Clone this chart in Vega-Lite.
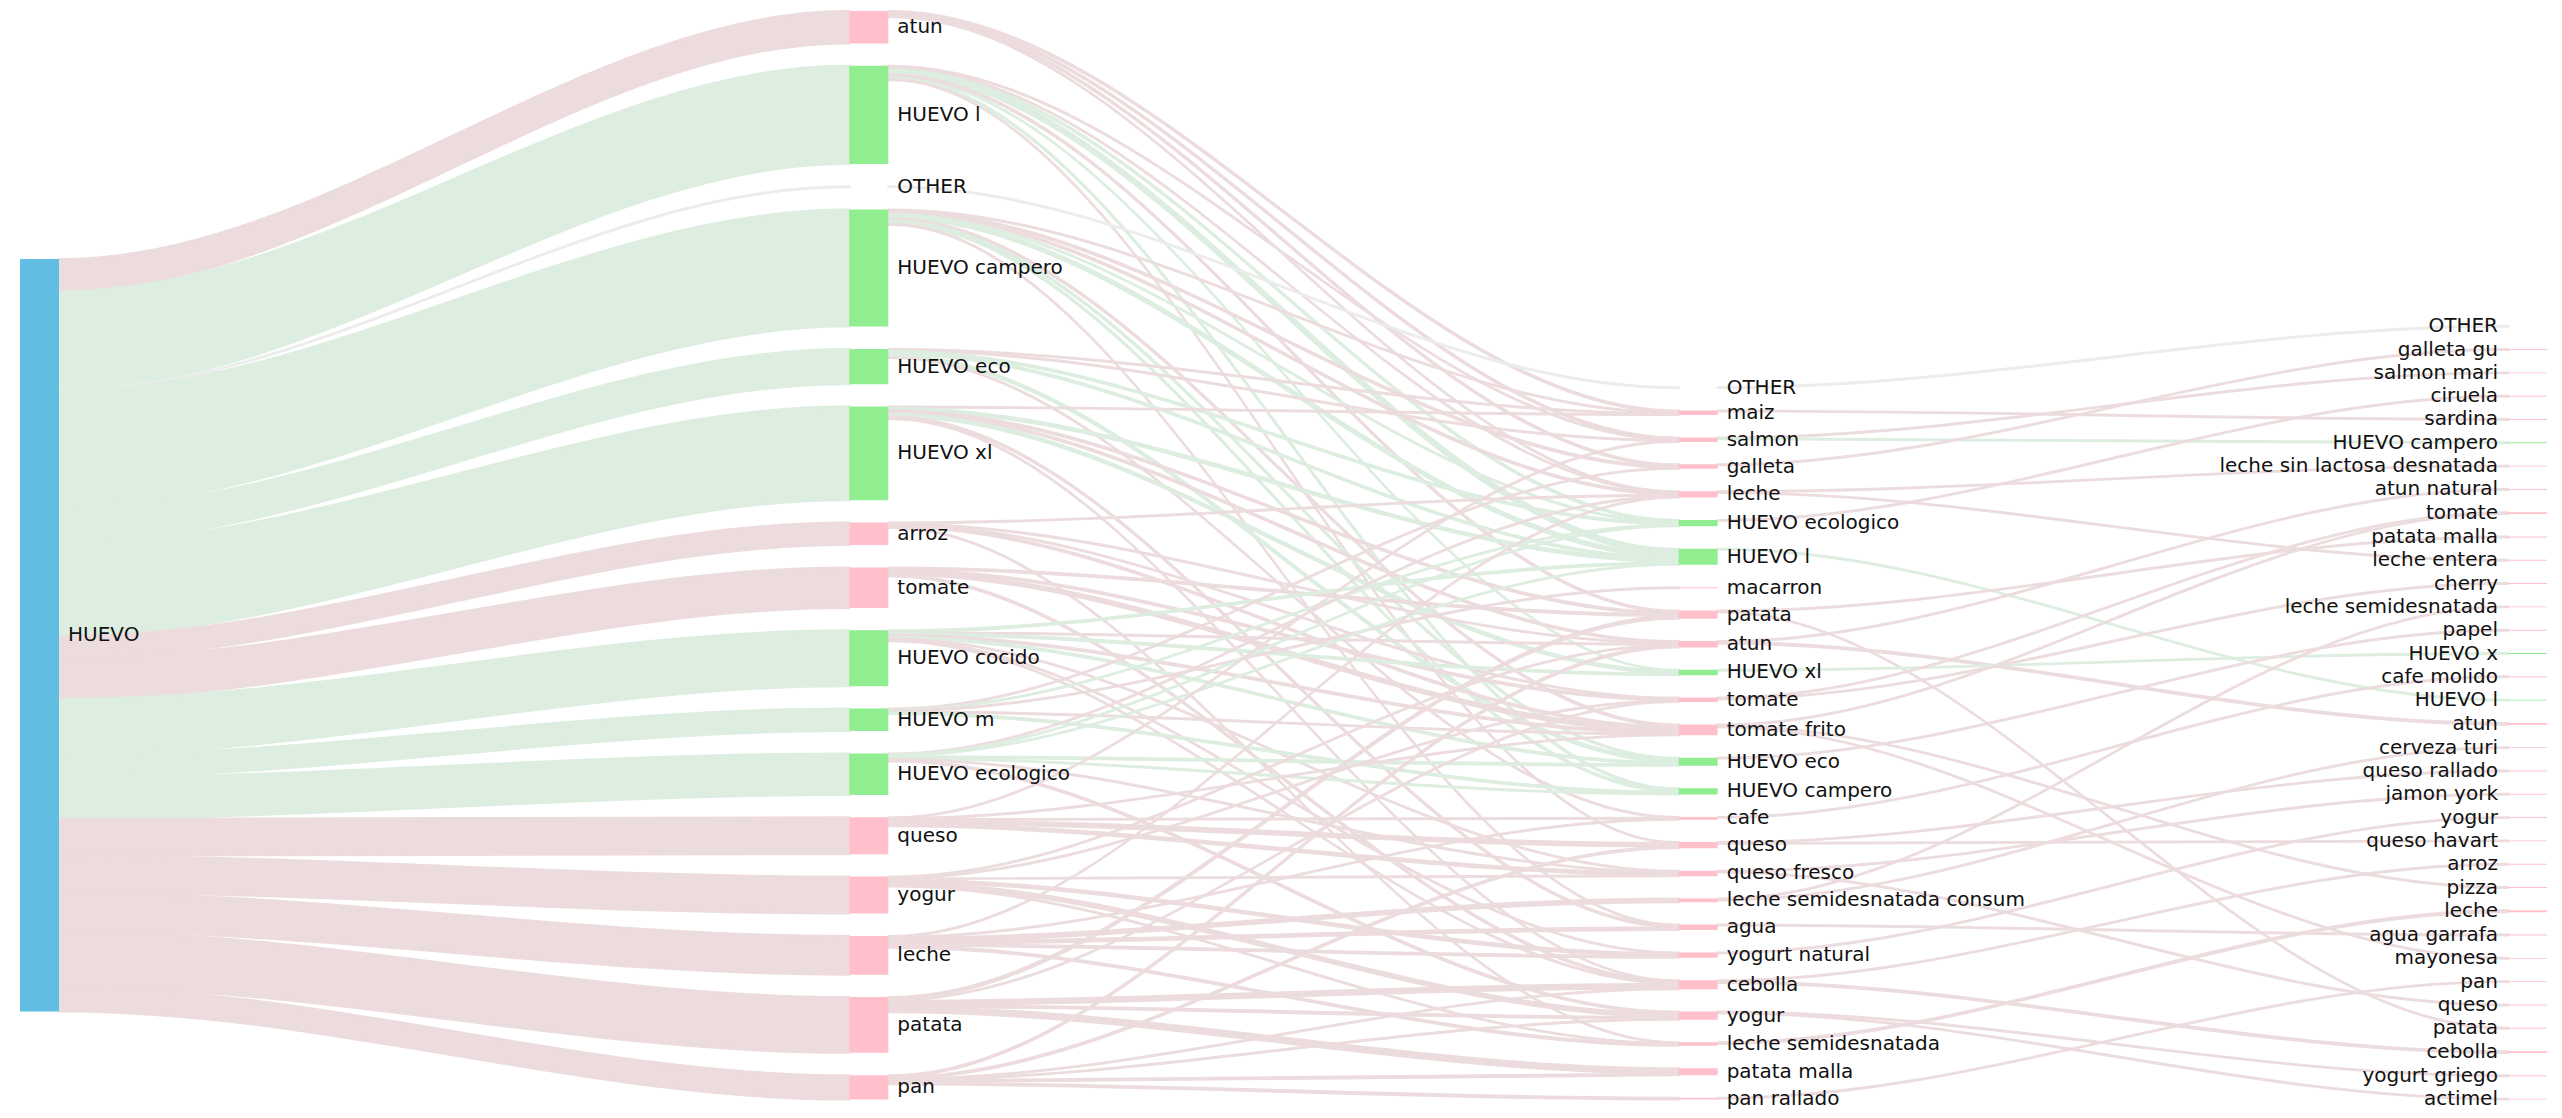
{
  "$schema": "https://vega.github.io/schema/vega-lite/v6.json",
  "width": 2562,
  "height": 1118,
  "padding": 0,
  "autosize": {"type": "fit", "contains": "padding"},
  "background": "white",
  "config": {"view": {"stroke": null}},
  "resolve": {"scale": {"color": "independent", "stroke": "independent"}},
  "data": {"values": [
    {"t":"n","name":"HUEVO","lvl":0,"ord":0},
    {"t":"n","name":"atun","lvl":1,"ord":0},
    {"t":"n","name":"HUEVO l","lvl":1,"ord":1},
    {"t":"n","name":"OTHER","lvl":1,"ord":2},
    {"t":"n","name":"HUEVO campero","lvl":1,"ord":3},
    {"t":"n","name":"HUEVO eco","lvl":1,"ord":4},
    {"t":"n","name":"HUEVO xl","lvl":1,"ord":5},
    {"t":"n","name":"arroz","lvl":1,"ord":6},
    {"t":"n","name":"tomate","lvl":1,"ord":7},
    {"t":"n","name":"HUEVO cocido","lvl":1,"ord":8},
    {"t":"n","name":"HUEVO m","lvl":1,"ord":9},
    {"t":"n","name":"HUEVO ecologico","lvl":1,"ord":10},
    {"t":"n","name":"queso","lvl":1,"ord":11},
    {"t":"n","name":"yogur","lvl":1,"ord":12},
    {"t":"n","name":"leche","lvl":1,"ord":13},
    {"t":"n","name":"patata","lvl":1,"ord":14},
    {"t":"n","name":"pan","lvl":1,"ord":15},
    {"t":"n","name":"OTHER","lvl":2,"ord":0},
    {"t":"n","name":"maiz","lvl":2,"ord":1},
    {"t":"n","name":"salmon","lvl":2,"ord":2},
    {"t":"n","name":"galleta","lvl":2,"ord":3},
    {"t":"n","name":"leche","lvl":2,"ord":4},
    {"t":"n","name":"HUEVO ecologico","lvl":2,"ord":5},
    {"t":"n","name":"HUEVO l","lvl":2,"ord":6},
    {"t":"n","name":"macarron","lvl":2,"ord":7},
    {"t":"n","name":"patata","lvl":2,"ord":8},
    {"t":"n","name":"atun","lvl":2,"ord":9},
    {"t":"n","name":"HUEVO xl","lvl":2,"ord":10},
    {"t":"n","name":"tomate","lvl":2,"ord":11},
    {"t":"n","name":"tomate frito","lvl":2,"ord":12},
    {"t":"n","name":"HUEVO eco","lvl":2,"ord":13},
    {"t":"n","name":"HUEVO campero","lvl":2,"ord":14},
    {"t":"n","name":"cafe","lvl":2,"ord":15},
    {"t":"n","name":"queso","lvl":2,"ord":16},
    {"t":"n","name":"queso fresco","lvl":2,"ord":17},
    {"t":"n","name":"leche semidesnatada consum","lvl":2,"ord":18},
    {"t":"n","name":"agua","lvl":2,"ord":19},
    {"t":"n","name":"yogurt natural","lvl":2,"ord":20},
    {"t":"n","name":"cebolla","lvl":2,"ord":21},
    {"t":"n","name":"yogur","lvl":2,"ord":22},
    {"t":"n","name":"leche semidesnatada","lvl":2,"ord":23},
    {"t":"n","name":"patata malla","lvl":2,"ord":24},
    {"t":"n","name":"pan rallado","lvl":2,"ord":25},
    {"t":"n","name":"OTHER","lvl":3,"ord":0},
    {"t":"n","name":"galleta gu","lvl":3,"ord":1},
    {"t":"n","name":"salmon mari","lvl":3,"ord":2},
    {"t":"n","name":"ciruela","lvl":3,"ord":3},
    {"t":"n","name":"sardina","lvl":3,"ord":4},
    {"t":"n","name":"HUEVO campero","lvl":3,"ord":5},
    {"t":"n","name":"leche sin lactosa desnatada","lvl":3,"ord":6},
    {"t":"n","name":"atun natural","lvl":3,"ord":7},
    {"t":"n","name":"tomate","lvl":3,"ord":8},
    {"t":"n","name":"patata malla","lvl":3,"ord":9},
    {"t":"n","name":"leche entera","lvl":3,"ord":10},
    {"t":"n","name":"cherry","lvl":3,"ord":11},
    {"t":"n","name":"leche semidesnatada","lvl":3,"ord":12},
    {"t":"n","name":"papel","lvl":3,"ord":13},
    {"t":"n","name":"HUEVO x","lvl":3,"ord":14},
    {"t":"n","name":"cafe molido","lvl":3,"ord":15},
    {"t":"n","name":"HUEVO l","lvl":3,"ord":16},
    {"t":"n","name":"atun","lvl":3,"ord":17},
    {"t":"n","name":"cerveza turi","lvl":3,"ord":18},
    {"t":"n","name":"queso rallado","lvl":3,"ord":19},
    {"t":"n","name":"jamon york","lvl":3,"ord":20},
    {"t":"n","name":"yogur","lvl":3,"ord":21},
    {"t":"n","name":"queso havart","lvl":3,"ord":22},
    {"t":"n","name":"arroz","lvl":3,"ord":23},
    {"t":"n","name":"pizza","lvl":3,"ord":24},
    {"t":"n","name":"leche","lvl":3,"ord":25},
    {"t":"n","name":"agua garrafa","lvl":3,"ord":26},
    {"t":"n","name":"mayonesa","lvl":3,"ord":27},
    {"t":"n","name":"pan","lvl":3,"ord":28},
    {"t":"n","name":"queso","lvl":3,"ord":29},
    {"t":"n","name":"patata","lvl":3,"ord":30},
    {"t":"n","name":"cebolla","lvl":3,"ord":31},
    {"t":"n","name":"yogurt griego","lvl":3,"ord":32},
    {"t":"n","name":"actimel","lvl":3,"ord":33},

    {"t":"l","src":"HUEVO","tgt":"atun","lvl":0,"v":36},
    {"t":"l","src":"HUEVO","tgt":"HUEVO l","lvl":0,"v":109},
    {"t":"l","src":"HUEVO","tgt":"OTHER","lvl":0,"v":1},
    {"t":"l","src":"HUEVO","tgt":"HUEVO campero","lvl":0,"v":130},
    {"t":"l","src":"HUEVO","tgt":"HUEVO eco","lvl":0,"v":39},
    {"t":"l","src":"HUEVO","tgt":"HUEVO xl","lvl":0,"v":104},
    {"t":"l","src":"HUEVO","tgt":"arroz","lvl":0,"v":25},
    {"t":"l","src":"HUEVO","tgt":"tomate","lvl":0,"v":45},
    {"t":"l","src":"HUEVO","tgt":"HUEVO cocido","lvl":0,"v":62},
    {"t":"l","src":"HUEVO","tgt":"HUEVO m","lvl":0,"v":25},
    {"t":"l","src":"HUEVO","tgt":"HUEVO ecologico","lvl":0,"v":46},
    {"t":"l","src":"HUEVO","tgt":"queso","lvl":0,"v":41},
    {"t":"l","src":"HUEVO","tgt":"yogur","lvl":0,"v":41},
    {"t":"l","src":"HUEVO","tgt":"leche","lvl":0,"v":43},
    {"t":"l","src":"HUEVO","tgt":"patata","lvl":0,"v":62},
    {"t":"l","src":"HUEVO","tgt":"pan","lvl":0,"v":27},

    {"t":"l","src":"atun","tgt":"maiz","lvl":1,"v":2},
    {"t":"l","src":"atun","tgt":"salmon","lvl":1,"v":2},
    {"t":"l","src":"atun","tgt":"galleta","lvl":1,"v":2},
    {"t":"l","src":"atun","tgt":"leche","lvl":1,"v":1},
    {"t":"l","src":"HUEVO l","tgt":"salmon","lvl":1,"v":1},
    {"t":"l","src":"HUEVO l","tgt":"HUEVO ecologico","lvl":1,"v":2},
    {"t":"l","src":"HUEVO l","tgt":"leche","lvl":1,"v":1},
    {"t":"l","src":"HUEVO l","tgt":"HUEVO l","lvl":1,"v":6},
    {"t":"l","src":"HUEVO l","tgt":"HUEVO xl","lvl":1,"v":1},
    {"t":"l","src":"HUEVO l","tgt":"patata","lvl":1,"v":2},
    {"t":"l","src":"HUEVO l","tgt":"HUEVO campero","lvl":1,"v":2},
    {"t":"l","src":"HUEVO l","tgt":"queso","lvl":1,"v":1},
    {"t":"l","src":"OTHER","tgt":"OTHER","lvl":1,"v":1},
    {"t":"l","src":"HUEVO campero","tgt":"maiz","lvl":1,"v":1},
    {"t":"l","src":"HUEVO campero","tgt":"galleta","lvl":1,"v":2},
    {"t":"l","src":"HUEVO campero","tgt":"leche","lvl":1,"v":2},
    {"t":"l","src":"HUEVO campero","tgt":"HUEVO ecologico","lvl":1,"v":1},
    {"t":"l","src":"HUEVO campero","tgt":"HUEVO l","lvl":1,"v":4},
    {"t":"l","src":"HUEVO campero","tgt":"tomate frito","lvl":1,"v":2},
    {"t":"l","src":"HUEVO campero","tgt":"HUEVO eco","lvl":1,"v":2},
    {"t":"l","src":"HUEVO campero","tgt":"HUEVO campero","lvl":1,"v":2},
    {"t":"l","src":"HUEVO campero","tgt":"agua","lvl":1,"v":1},
    {"t":"l","src":"HUEVO eco","tgt":"maiz","lvl":1,"v":1},
    {"t":"l","src":"HUEVO eco","tgt":"salmon","lvl":1,"v":1},
    {"t":"l","src":"HUEVO eco","tgt":"HUEVO ecologico","lvl":1,"v":2},
    {"t":"l","src":"HUEVO eco","tgt":"HUEVO l","lvl":1,"v":2},
    {"t":"l","src":"HUEVO eco","tgt":"HUEVO eco","lvl":1,"v":3},
    {"t":"l","src":"HUEVO eco","tgt":"cafe","lvl":1,"v":1},
    {"t":"l","src":"HUEVO xl","tgt":"maiz","lvl":1,"v":1},
    {"t":"l","src":"HUEVO xl","tgt":"HUEVO l","lvl":1,"v":3},
    {"t":"l","src":"HUEVO xl","tgt":"patata","lvl":1,"v":2},
    {"t":"l","src":"HUEVO xl","tgt":"atun","lvl":1,"v":2},
    {"t":"l","src":"HUEVO xl","tgt":"HUEVO xl","lvl":1,"v":3},
    {"t":"l","src":"HUEVO xl","tgt":"agua","lvl":1,"v":2},
    {"t":"l","src":"HUEVO xl","tgt":"cebolla","lvl":1,"v":1},
    {"t":"l","src":"arroz","tgt":"leche","lvl":1,"v":1},
    {"t":"l","src":"arroz","tgt":"atun","lvl":1,"v":1},
    {"t":"l","src":"arroz","tgt":"tomate","lvl":1,"v":1},
    {"t":"l","src":"arroz","tgt":"tomate frito","lvl":1,"v":2},
    {"t":"l","src":"arroz","tgt":"leche semidesnatada","lvl":1,"v":1},
    {"t":"l","src":"tomate","tgt":"patata","lvl":1,"v":2},
    {"t":"l","src":"tomate","tgt":"tomate","lvl":1,"v":2},
    {"t":"l","src":"tomate","tgt":"tomate frito","lvl":1,"v":4},
    {"t":"l","src":"tomate","tgt":"cebolla","lvl":1,"v":2},
    {"t":"l","src":"HUEVO cocido","tgt":"HUEVO l","lvl":1,"v":2},
    {"t":"l","src":"HUEVO cocido","tgt":"atun","lvl":1,"v":1},
    {"t":"l","src":"HUEVO cocido","tgt":"HUEVO xl","lvl":1,"v":2},
    {"t":"l","src":"HUEVO cocido","tgt":"tomate frito","lvl":1,"v":2},
    {"t":"l","src":"HUEVO cocido","tgt":"HUEVO eco","lvl":1,"v":2},
    {"t":"l","src":"HUEVO cocido","tgt":"queso fresco","lvl":1,"v":1},
    {"t":"l","src":"HUEVO cocido","tgt":"yogurt natural","lvl":1,"v":1},
    {"t":"l","src":"HUEVO cocido","tgt":"cebolla","lvl":1,"v":1},
    {"t":"l","src":"HUEVO m","tgt":"galleta","lvl":1,"v":1},
    {"t":"l","src":"HUEVO m","tgt":"HUEVO ecologico","lvl":1,"v":1},
    {"t":"l","src":"HUEVO m","tgt":"macarron","lvl":1,"v":1},
    {"t":"l","src":"HUEVO m","tgt":"tomate frito","lvl":1,"v":1},
    {"t":"l","src":"HUEVO m","tgt":"HUEVO campero","lvl":1,"v":2},
    {"t":"l","src":"HUEVO ecologico","tgt":"leche","lvl":1,"v":1},
    {"t":"l","src":"HUEVO ecologico","tgt":"HUEVO ecologico","lvl":1,"v":1},
    {"t":"l","src":"HUEVO ecologico","tgt":"HUEVO l","lvl":1,"v":1},
    {"t":"l","src":"HUEVO ecologico","tgt":"HUEVO eco","lvl":1,"v":2},
    {"t":"l","src":"HUEVO ecologico","tgt":"HUEVO campero","lvl":1,"v":1},
    {"t":"l","src":"HUEVO ecologico","tgt":"queso fresco","lvl":1,"v":1},
    {"t":"l","src":"HUEVO ecologico","tgt":"yogur","lvl":1,"v":2},
    {"t":"l","src":"queso","tgt":"salmon","lvl":1,"v":1},
    {"t":"l","src":"queso","tgt":"tomate frito","lvl":1,"v":1},
    {"t":"l","src":"queso","tgt":"cafe","lvl":1,"v":1},
    {"t":"l","src":"queso","tgt":"queso","lvl":1,"v":4},
    {"t":"l","src":"queso","tgt":"queso fresco","lvl":1,"v":3},
    {"t":"l","src":"yogur","tgt":"atun","lvl":1,"v":1},
    {"t":"l","src":"yogur","tgt":"tomate","lvl":1,"v":1},
    {"t":"l","src":"yogur","tgt":"queso fresco","lvl":1,"v":1},
    {"t":"l","src":"yogur","tgt":"yogurt natural","lvl":1,"v":3},
    {"t":"l","src":"yogur","tgt":"yogur","lvl":1,"v":4},
    {"t":"l","src":"yogur","tgt":"leche semidesnatada","lvl":1,"v":1},
    {"t":"l","src":"leche","tgt":"leche","lvl":1,"v":1},
    {"t":"l","src":"leche","tgt":"cafe","lvl":1,"v":1},
    {"t":"l","src":"leche","tgt":"leche semidesnatada consum","lvl":1,"v":4},
    {"t":"l","src":"leche","tgt":"agua","lvl":1,"v":3},
    {"t":"l","src":"leche","tgt":"yogurt natural","lvl":1,"v":2},
    {"t":"l","src":"leche","tgt":"leche semidesnatada","lvl":1,"v":2},
    {"t":"l","src":"patata","tgt":"patata","lvl":1,"v":3},
    {"t":"l","src":"patata","tgt":"tomate","lvl":1,"v":1},
    {"t":"l","src":"patata","tgt":"cebolla","lvl":1,"v":5},
    {"t":"l","src":"patata","tgt":"yogur","lvl":1,"v":2},
    {"t":"l","src":"patata","tgt":"patata malla","lvl":1,"v":6},
    {"t":"l","src":"pan","tgt":"atun","lvl":1,"v":2},
    {"t":"l","src":"pan","tgt":"queso","lvl":1,"v":2},
    {"t":"l","src":"pan","tgt":"cebolla","lvl":1,"v":1},
    {"t":"l","src":"pan","tgt":"yogur","lvl":1,"v":1},
    {"t":"l","src":"pan","tgt":"patata malla","lvl":1,"v":2},
    {"t":"l","src":"pan","tgt":"pan rallado","lvl":1,"v":2},

    {"t":"l","src":"OTHER","tgt":"OTHER","lvl":2,"v":1},
    {"t":"l","src":"maiz","tgt":"sardina","lvl":2,"v":1},
    {"t":"l","src":"salmon","tgt":"salmon mari","lvl":2,"v":1},
    {"t":"l","src":"salmon","tgt":"HUEVO campero","lvl":2,"v":1},
    {"t":"l","src":"galleta","tgt":"galleta gu","lvl":2,"v":1},
    {"t":"l","src":"leche","tgt":"leche sin lactosa desnatada","lvl":2,"v":1},
    {"t":"l","src":"leche","tgt":"leche entera","lvl":2,"v":1},
    {"t":"l","src":"HUEVO ecologico","tgt":"ciruela","lvl":2,"v":1},
    {"t":"l","src":"HUEVO l","tgt":"HUEVO l","lvl":2,"v":1},
    {"t":"l","src":"patata","tgt":"patata malla","lvl":2,"v":1},
    {"t":"l","src":"patata","tgt":"patata","lvl":2,"v":1},
    {"t":"l","src":"atun","tgt":"atun natural","lvl":2,"v":1},
    {"t":"l","src":"atun","tgt":"atun","lvl":2,"v":2},
    {"t":"l","src":"HUEVO xl","tgt":"HUEVO x","lvl":2,"v":1},
    {"t":"l","src":"tomate","tgt":"tomate","lvl":2,"v":1},
    {"t":"l","src":"tomate","tgt":"cherry","lvl":2,"v":1},
    {"t":"l","src":"tomate frito","tgt":"tomate","lvl":2,"v":1},
    {"t":"l","src":"tomate frito","tgt":"pizza","lvl":2,"v":1},
    {"t":"l","src":"tomate frito","tgt":"mayonesa","lvl":2,"v":1},
    {"t":"l","src":"HUEVO eco","tgt":"papel","lvl":2,"v":1},
    {"t":"l","src":"cafe","tgt":"cafe molido","lvl":2,"v":1},
    {"t":"l","src":"queso","tgt":"queso rallado","lvl":2,"v":1},
    {"t":"l","src":"queso","tgt":"queso havart","lvl":2,"v":1},
    {"t":"l","src":"queso fresco","tgt":"jamon york","lvl":2,"v":1},
    {"t":"l","src":"queso fresco","tgt":"queso","lvl":2,"v":1},
    {"t":"l","src":"leche semidesnatada consum","tgt":"leche semidesnatada","lvl":2,"v":1},
    {"t":"l","src":"leche semidesnatada consum","tgt":"cerveza turi","lvl":2,"v":1},
    {"t":"l","src":"agua","tgt":"agua garrafa","lvl":2,"v":1},
    {"t":"l","src":"yogurt natural","tgt":"yogur","lvl":2,"v":1},
    {"t":"l","src":"cebolla","tgt":"cebolla","lvl":2,"v":2},
    {"t":"l","src":"cebolla","tgt":"arroz","lvl":2,"v":1},
    {"t":"l","src":"yogur","tgt":"yogurt griego","lvl":2,"v":1},
    {"t":"l","src":"yogur","tgt":"actimel","lvl":2,"v":1},
    {"t":"l","src":"leche semidesnatada","tgt":"leche","lvl":2,"v":2},
    {"t":"l","src":"pan rallado","tgt":"pan","lvl":2,"v":1}
  ]},
  "transform": [
    {"calculate": "datum.t == 'n' ? datum.name + '|' + datum.lvl : datum.src + '|' + datum.lvl", "as": "sk"},
    {"calculate": "datum.t == 'n' ? datum.name + '|' + datum.lvl : datum.tgt + '|' + (datum.lvl + 1)", "as": "tk"},
    {"calculate": "datum.t == 'l' ? datum.v : 0", "as": "lv"},
    {"calculate": "datum.t == 'n' ? datum.ord : -1", "as": "nord"},
    {"joinaggregate": [{"op": "sum", "field": "lv", "as": "outSum"}, {"op": "max", "field": "nord", "as": "srcOrd"}], "groupby": ["sk"]},
    {"joinaggregate": [{"op": "sum", "field": "lv", "as": "inSum"}, {"op": "max", "field": "nord", "as": "tgtOrd"}], "groupby": ["tk"]},
    {"calculate": "datum.t == 'n' ? max(datum.outSum, datum.inSum) : 0", "as": "nv"},
    {"window": [{"op": "sum", "field": "nv", "as": "cumNv"}, {"op": "row_number", "as": "rn"}], "groupby": ["t", "lvl"], "sort": [{"field": "ord", "order": "descending"}]},
    {"calculate": "datum.t == 'n' ? (datum.lvl == 0 ? 287.8 : 1221.7 - datum.cumNv - 24.9 * (datum.rn - 1)) : 0", "as": "ny0"},
    {"joinaggregate": [{"op": "max", "field": "ny0", "as": "sy0"}], "groupby": ["sk"]},
    {"joinaggregate": [{"op": "max", "field": "ny0", "as": "ty0"}], "groupby": ["tk"]},
    {"window": [{"op": "sum", "field": "lv", "as": "sCum"}], "groupby": ["t", "sk"], "sort": [{"field": "tgtOrd", "order": "ascending"}]},
    {"window": [{"op": "sum", "field": "lv", "as": "tCum"}], "groupby": ["t", "tk"], "sort": [{"field": "srcOrd", "order": "ascending"}]}
  ],
  "layer": [
    {
      "transform": [
        {"filter": "datum.t == 'l'"},
        {"calculate": "datum.sy0 + datum.sCum - datum.lv", "as": "p0"},
        {"calculate": "datum.p0", "as": "p1"},
        {"calculate": "datum.ty0 + datum.tCum - datum.lv", "as": "p3"},
        {"calculate": "datum.p3", "as": "p2"},
        {"fold": ["p0", "p1", "p2", "p3"], "as": ["k", "yy"]},
        {"calculate": "datum.k == 'p0' ? 0 : datum.k == 'p1' ? 1 : datum.k == 'p2' ? 2 : 3", "as": "kn"},
        {"calculate": "datum.lvl + 0.04703 + (datum.kn == 0 ? 0 : datum.kn == 1 ? 0.004 : datum.kn == 2 ? 0.94897 : 0.95297)", "as": "xx"},
        {"calculate": "datum.yy + datum.lv", "as": "yb"},
        {"calculate": "datum.src + '>' + datum.tgt + '>' + datum.lvl", "as": "id"},
        {"calculate": "datum.tgt == 'OTHER' ? 'o' : test(/^HUEVO/, datum.tgt) ? 'g' : 'p'", "as": "lc"}
      ],
      "mark": {"type": "area", "interpolate": "monotone", "strokeWidth": 2, "opacity": 1},
      "encoding": {
        "x": {"field": "xx", "type": "quantitative", "scale": {"domain": [-0.02412, 3.06513], "nice": false, "zero": false}, "axis": null},
        "y": {"field": "yy", "type": "quantitative", "scale": {"domain": [0, 1242.2], "reverse": true, "nice": false, "zero": false}, "axis": null},
        "y2": {"field": "yb"},
        "detail": {"field": "id", "type": "nominal"},
        "color": {"field": "lc", "type": "nominal", "scale": {"domain": ["p", "g", "o"], "range": ["#ecdcde", "#ddeee0", "#ececec"]}, "legend": null},
        "stroke": {"field": "lc", "type": "nominal", "scale": {"domain": ["p", "g", "o"], "range": ["#ecdcde", "#ddeee0", "#ececec"]}, "legend": null}
      }
    },
    {
      "transform": [
        {"filter": "datum.t == 'n'"},
        {"calculate": "datum.ny0 + datum.nv", "as": "ny1"},
        {"calculate": "datum.lvl + 0.04703", "as": "nx1"},
        {"calculate": "datum.lvl == 0 ? 'root' : datum.name == 'OTHER' ? 'other' : test(/^HUEVO/, datum.name) ? 'egg' : 'prod'", "as": "nc"}
      ],
      "mark": {"type": "rect"},
      "encoding": {
        "x": {"field": "lvl", "type": "quantitative"},
        "x2": {"field": "nx1"},
        "y": {"field": "ny0", "type": "quantitative"},
        "y2": {"field": "ny1"},
        "color": {"field": "nc", "type": "nominal", "scale": {"domain": ["root", "egg", "prod", "other"], "range": ["#62bde2", "#90ee90", "#ffc0cb", "rgba(255,255,255,0)"]}, "legend": null}
      }
    },
    {
      "transform": [
        {"filter": "datum.t == 'n' && datum.lvl < 3"},
        {"calculate": "datum.ny0 + datum.nv / 2", "as": "nym"},
        {"calculate": "datum.lvl + 0.04703", "as": "nx1"}
      ],
      "mark": {"type": "text", "align": "left", "baseline": "middle", "dx": 9, "font": "DejaVu Sans", "fontSize": 20, "color": "#111111"},
      "encoding": {
        "x": {"field": "nx1", "type": "quantitative"},
        "y": {"field": "nym", "type": "quantitative"},
        "text": {"field": "name", "type": "nominal"}
      }
    },
    {
      "transform": [
        {"filter": "datum.t == 'n' && datum.lvl == 3"},
        {"calculate": "datum.ny0 + datum.nv / 2", "as": "nym"}
      ],
      "mark": {"type": "text", "align": "right", "baseline": "middle", "dx": -10, "font": "DejaVu Sans", "fontSize": 20, "color": "#111111"},
      "encoding": {
        "x": {"field": "lvl", "type": "quantitative"},
        "y": {"field": "nym", "type": "quantitative"},
        "text": {"field": "name", "type": "nominal"}
      }
    }
  ]
}
